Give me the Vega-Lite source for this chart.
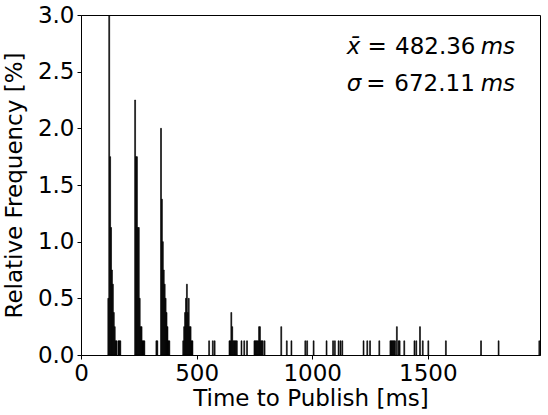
{
  "$schema": "https://vega.github.io/schema/vega-lite/v6.json",
  "width": 459,
  "height": 340,
  "autosize": {"type": "none"},
  "padding": {"left": 81, "top": 15, "right": 8, "bottom": 60},
  "config": {
    "view": {"stroke": "black", "strokeWidth": 1},
    "font": "DejaVu Sans",
    "axis": {
      "labelFont": "DejaVu Sans", "titleFont": "DejaVu Sans",
      "labelFontSize": 23, "titleFontSize": 23, "titleFontWeight": "normal",
      "labelColor": "black", "titleColor": "black",
      "domainColor": "black", "tickColor": "black", "domainWidth": 1, "tickWidth": 1,
      "grid": false, "tickSize": 4, "labelPadding": 3,
      "labelFlush": false, "labelOverlap": false
    }
  },
  "datasets": {
    "hist": [
      {"t0":116,"t1":120,"f":0.5},{"t0":120,"t1":124,"f":3.4},{"t0":124,"t1":128,"f":1.75},{"t0":128,"t1":132,"f":1.125},
      {"t0":132,"t1":136,"f":0.75},{"t0":136,"t1":140,"f":0.625},{"t0":140,"t1":144,"f":0.375},{"t0":144,"t1":148,"f":0.25},
      {"t0":148,"t1":152,"f":0.125},{"t0":152,"t1":156,"f":0.125},{"t0":160,"t1":164,"f":0.125},{"t0":164,"t1":168,"f":0.125},
      {"t0":168,"t1":172,"f":0.125},
      {"t0":232,"t1":236,"f":2.25},{"t0":236,"t1":240,"f":1.75},{"t0":240,"t1":244,"f":1.75},{"t0":244,"t1":248,"f":1.125},
      {"t0":248,"t1":252,"f":1.125},{"t0":252,"t1":256,"f":0.5},{"t0":256,"t1":260,"f":0.25},{"t0":260,"t1":264,"f":0.25},
      {"t0":264,"t1":268,"f":0.125},{"t0":268,"t1":272,"f":0.125},{"t0":272,"t1":276,"f":0.125},
      {"t0":324,"t1":328,"f":0.125},{"t0":328,"t1":332,"f":0.125},
      {"t0":344,"t1":348,"f":2.0},{"t0":348,"t1":352,"f":1.375},{"t0":352,"t1":356,"f":1.0},{"t0":356,"t1":360,"f":0.75},
      {"t0":360,"t1":364,"f":0.625},{"t0":364,"t1":368,"f":0.5},{"t0":368,"t1":372,"f":0.375},{"t0":372,"t1":376,"f":0.25},
      {"t0":376,"t1":380,"f":0.125},{"t0":380,"t1":384,"f":0.125},
      {"t0":440,"t1":444,"f":0.125},{"t0":444,"t1":448,"f":0.25},{"t0":448,"t1":452,"f":0.375},{"t0":452,"t1":456,"f":0.5},
      {"t0":456,"t1":460,"f":0.625},{"t0":460,"t1":464,"f":0.375},{"t0":464,"t1":468,"f":0.5},{"t0":468,"t1":472,"f":0.25},
      {"t0":472,"t1":476,"f":0.25},{"t0":476,"t1":480,"f":0.125},{"t0":480,"t1":484,"f":0.125},
      {"t0":552,"t1":556,"f":0.125},{"t0":568,"t1":572,"f":0.125},{"t0":576,"t1":580,"f":0.125},
      {"t0":640,"t1":644,"f":0.125},{"t0":644,"t1":648,"f":0.125},{"t0":648,"t1":652,"f":0.375},{"t0":652,"t1":656,"f":0.25},
      {"t0":656,"t1":660,"f":0.125},{"t0":660,"t1":664,"f":0.125},{"t0":664,"t1":668,"f":0.125},{"t0":668,"t1":672,"f":0.125},
      {"t0":672,"t1":676,"f":0.125},{"t0":692,"t1":696,"f":0.125},{"t0":704,"t1":708,"f":0.125},{"t0":716,"t1":720,"f":0.125},
      {"t0":748,"t1":752,"f":0.125},{"t0":752,"t1":756,"f":0.125},{"t0":756,"t1":760,"f":0.125},{"t0":760,"t1":764,"f":0.125},
      {"t0":764,"t1":768,"f":0.125},{"t0":768,"t1":772,"f":0.25},{"t0":772,"t1":776,"f":0.25},{"t0":776,"t1":780,"f":0.125},
      {"t0":780,"t1":784,"f":0.125},{"t0":784,"t1":788,"f":0.125},{"t0":792,"t1":796,"f":0.125},
      {"t0":864,"t1":868,"f":0.25},{"t0":888,"t1":892,"f":0.125},{"t0":908,"t1":912,"f":0.125},{"t0":968,"t1":972,"f":0.125},
      {"t0":976,"t1":980,"f":0.125},{"t0":1004,"t1":1008,"f":0.125},{"t0":1060,"t1":1064,"f":0.125},{"t0":1088,"t1":1092,"f":0.125},
      {"t0":1096,"t1":1100,"f":0.125},{"t0":1112,"t1":1116,"f":0.125},{"t0":1120,"t1":1124,"f":0.125},{"t0":1128,"t1":1132,"f":0.125},
      {"t0":1220,"t1":1224,"f":0.125},{"t0":1236,"t1":1240,"f":0.125},{"t0":1248,"t1":1252,"f":0.125},{"t0":1288,"t1":1292,"f":0.125},
      {"t0":1336,"t1":1340,"f":0.125},{"t0":1340,"t1":1344,"f":0.125},{"t0":1344,"t1":1348,"f":0.125},{"t0":1348,"t1":1352,"f":0.125},
      {"t0":1352,"t1":1356,"f":0.125},{"t0":1356,"t1":1360,"f":0.125},{"t0":1364,"t1":1368,"f":0.25},{"t0":1372,"t1":1376,"f":0.125},
      {"t0":1376,"t1":1380,"f":0.125},{"t0":1396,"t1":1400,"f":0.125},{"t0":1440,"t1":1444,"f":0.125},{"t0":1448,"t1":1452,"f":0.125},
      {"t0":1464,"t1":1468,"f":0.25},{"t0":1476,"t1":1480,"f":0.125},{"t0":1500,"t1":1504,"f":0.125},{"t0":1576,"t1":1580,"f":0.125},
      {"t0":1728,"t1":1732,"f":0.125},{"t0":1804,"t1":1808,"f":0.125},{"t0":1980,"t1":1984,"f":0.125}
    ],
    "stats": [
      {"stat": "mean", "sym": "x̄", "eq": "=", "num": "482.36", "unit": "ms"},
      {"stat": "sd", "sym": "σ", "eq": "=", "num": "672.11", "unit": "ms"}
    ]
  },
  "layer": [
    {
      "data": {"name": "hist"},
      "mark": {"type": "bar", "color": "black", "stroke": "black", "strokeWidth": 0.6, "clip": true},
      "encoding": {
        "x": {"field": "t0", "type": "quantitative",
              "scale": {"domain": [0, 1985], "nice": false, "zero": false},
              "axis": {"values": [0, 500, 1000, 1500], "format": "d", "title": "Time to Publish [ms]", "titlePadding": 2}},
        "x2": {"field": "t1"},
        "y": {"field": "f", "type": "quantitative",
              "scale": {"domain": [0, 3], "nice": false},
              "axis": {"values": [0, 0.5, 1, 1.5, 2, 2.5, 3], "format": ".1f", "title": "Relative Frequency [%]", "titlePadding": 11}},
        "y2": {"datum": 0}
      }
    },
    {
      "data": {"name": "stats"},
      "transform": [{"filter": "datum.stat === 'mean'"}],
      "layer": [
        {"mark": {"type": "text", "font": "DejaVu Sans", "fontSize": 23, "fontStyle": "italic", "align": "left", "baseline": "alphabetic", "color": "black"},
         "encoding": {"x": {"datum": 1149}, "y": {"datum": 2.656}, "text": {"field": "sym"}}},
        {"mark": {"type": "text", "font": "DejaVu Sans", "fontSize": 23, "align": "center", "baseline": "alphabetic", "color": "black"},
         "encoding": {"x": {"datum": 1281}, "y": {"datum": 2.656}, "text": {"field": "eq"}}},
        {"mark": {"type": "text", "font": "DejaVu Sans", "fontSize": 23, "align": "right", "baseline": "alphabetic", "color": "black"},
         "encoding": {"x": {"datum": 1706}, "y": {"datum": 2.656}, "text": {"field": "num"}}},
        {"mark": {"type": "text", "font": "DejaVu Sans", "fontSize": 23, "fontStyle": "italic", "align": "right", "baseline": "alphabetic", "color": "black"},
         "encoding": {"x": {"datum": 1877}, "y": {"datum": 2.656}, "text": {"field": "unit"}}}
      ]
    },
    {
      "data": {"name": "stats"},
      "transform": [{"filter": "datum.stat === 'sd'"}],
      "layer": [
        {"mark": {"type": "text", "font": "DejaVu Sans", "fontSize": 23, "fontStyle": "italic", "align": "left", "baseline": "alphabetic", "color": "black"},
         "encoding": {"x": {"datum": 1149}, "y": {"datum": 2.329}, "text": {"field": "sym"}}},
        {"mark": {"type": "text", "font": "DejaVu Sans", "fontSize": 23, "align": "center", "baseline": "alphabetic", "color": "black"},
         "encoding": {"x": {"datum": 1275}, "y": {"datum": 2.329}, "text": {"field": "eq"}}},
        {"mark": {"type": "text", "font": "DejaVu Sans", "fontSize": 23, "align": "right", "baseline": "alphabetic", "color": "black"},
         "encoding": {"x": {"datum": 1703}, "y": {"datum": 2.329}, "text": {"field": "num"}}},
        {"mark": {"type": "text", "font": "DejaVu Sans", "fontSize": 23, "fontStyle": "italic", "align": "right", "baseline": "alphabetic", "color": "black"},
         "encoding": {"x": {"datum": 1877}, "y": {"datum": 2.329}, "text": {"field": "unit"}}}
      ]
    }
  ]
}
